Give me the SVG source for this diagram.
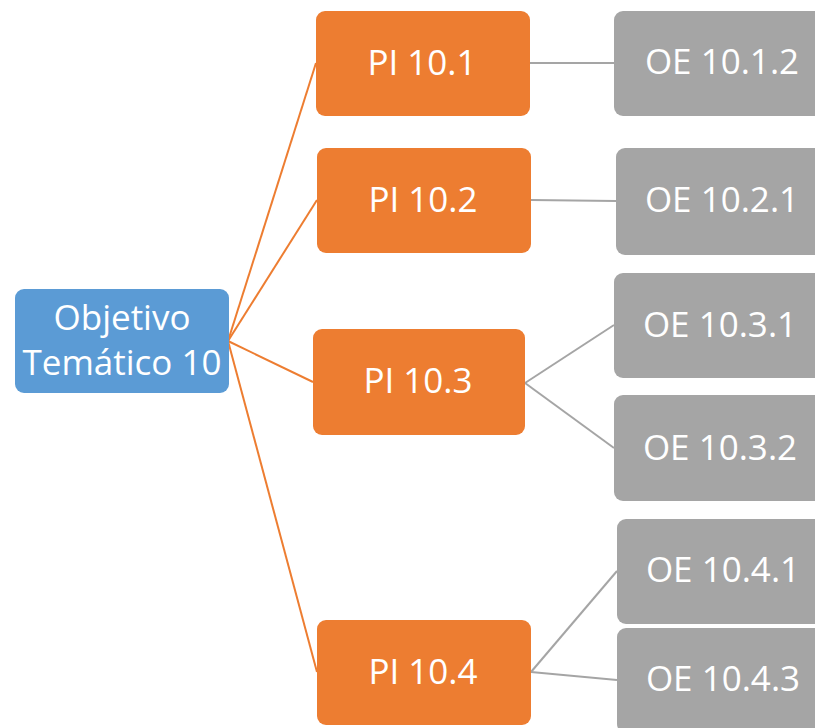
<svg xmlns="http://www.w3.org/2000/svg" width="815" height="728" viewBox="0 0 815 728">
<style>
.n rect{stroke:none}
.blue{fill:#5B9BD5}
.orange{fill:#ED7D31}
.gray{fill:#A5A5A5}
text{font-family:"Open Sans","Liberation Sans",sans-serif;font-size:35px;fill:#FFFFFF;text-anchor:middle}
.co{stroke:#ED7D31;stroke-width:2;fill:none}
.cg{stroke:#A5A5A5;stroke-width:2;fill:none}
</style>
<rect width="815" height="728" fill="#FFFFFF"/>
<g id="connectors">
<line class="co" x1="228" y1="341" x2="316" y2="63"/>
<line class="co" x1="228" y1="341" x2="317" y2="200"/>
<line class="co" x1="228" y1="341" x2="313" y2="382"/>
<line class="co" x1="228" y1="341" x2="317" y2="672"/>
<line class="cg" x1="530" y1="63" x2="614" y2="63"/>
<line class="cg" x1="531" y1="200" x2="616" y2="201"/>
<line class="cg" x1="525" y1="383" x2="614" y2="325"/>
<line class="cg" x1="525" y1="383" x2="614" y2="448"/>
<line class="cg" x1="531" y1="672" x2="617" y2="571"/>
<line class="cg" x1="531" y1="672" x2="617" y2="680"/>
</g>
<g id="ot10" class="n">
<rect class="blue" x="15" y="289" width="214" height="104" rx="9"/>
<text x="122" y="330">Objetivo</text>
<text x="122" y="375">Temático 10</text>
</g>
<g id="pi101" class="n">
<rect class="orange" x="316" y="11" width="214" height="105" rx="9"/>
<text x="422" y="75">PI 10.1</text>
</g>
<g id="pi102" class="n">
<rect class="orange" x="317" y="148" width="214" height="105" rx="9"/>
<text x="423" y="212">PI 10.2</text>
</g>
<g id="pi103" class="n">
<rect class="orange" x="313" y="329" width="212" height="106" rx="9"/>
<text x="418" y="393">PI 10.3</text>
</g>
<g id="pi104" class="n">
<rect class="orange" x="317" y="620" width="214" height="105" rx="9"/>
<text x="423" y="684">PI 10.4</text>
</g>
<g id="oe1012" class="n">
<rect class="gray" x="614" y="11" width="214" height="105" rx="9"/>
<text x="722" y="74">OE 10.1.2</text>
</g>
<g id="oe1021" class="n">
<rect class="gray" x="616" y="148" width="214" height="107" rx="9"/>
<text x="722" y="212">OE 10.2.1</text>
</g>
<g id="oe1031" class="n">
<rect class="gray" x="614" y="273" width="214" height="105" rx="9"/>
<text x="720" y="337">OE 10.3.1</text>
</g>
<g id="oe1032" class="n">
<rect class="gray" x="614" y="395" width="214" height="106" rx="9"/>
<text x="720" y="460">OE 10.3.2</text>
</g>
<g id="oe1041" class="n">
<rect class="gray" x="617" y="519" width="214" height="105" rx="9"/>
<text x="723" y="582">OE 10.4.1</text>
</g>
<g id="oe1043" class="n">
<rect class="gray" x="617" y="628" width="214" height="105" rx="9"/>
<text x="723" y="691">OE 10.4.3</text>
</g>
</svg>
